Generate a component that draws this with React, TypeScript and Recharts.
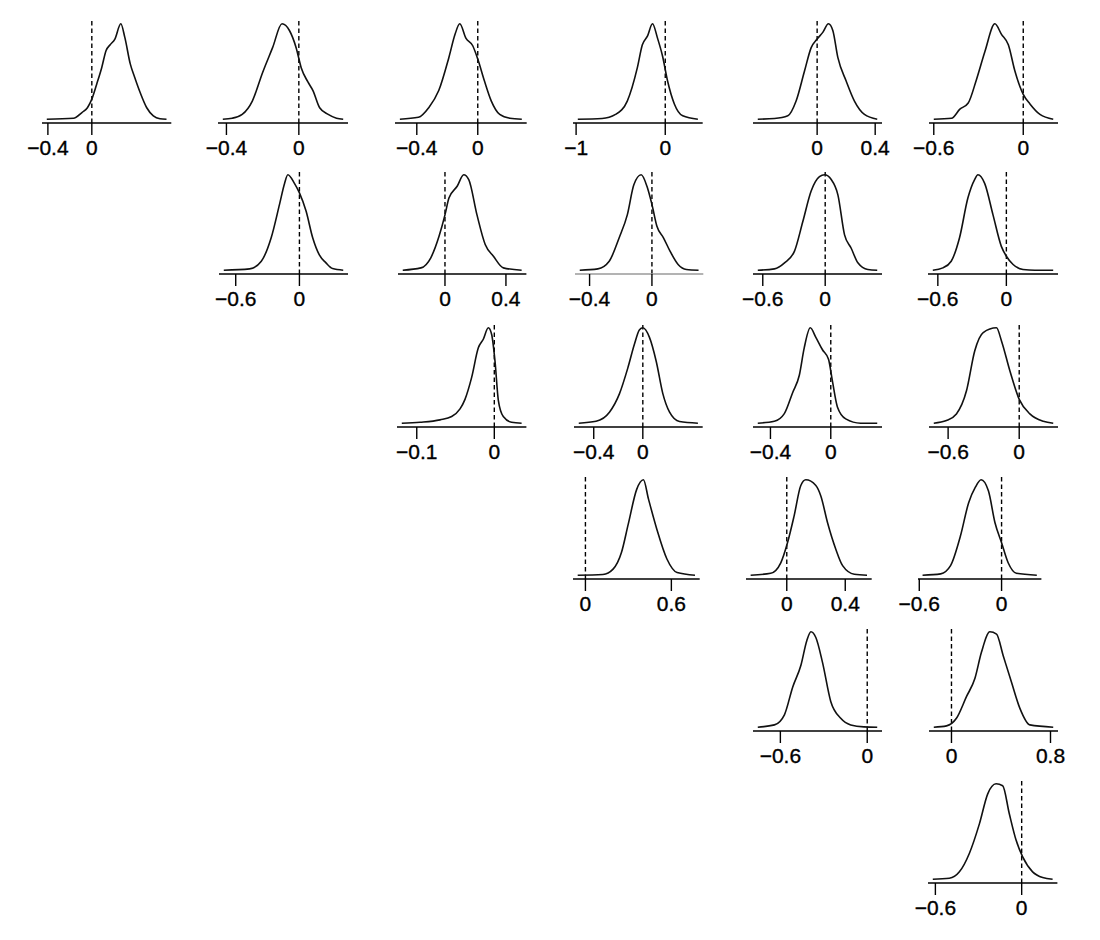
import React from 'react';
import { LineChart, Line, XAxis, YAxis, ReferenceLine } from 'recharts';

type Pt = [number, number];

// Posterior density curves (x value, height relative to the panel's peak)
const dens_1_1: Pt[] = [[-0.41,0],[-0.167,0.01],[-0.09,0.07],[-0.04,0.12],[0,0.21],[0.045,0.37],[0.09,0.54],[0.13,0.72],[0.167,0.78],[0.21,0.84],[0.264,1],[0.3,0.86],[0.35,0.58],[0.39,0.44],[0.44,0.28],[0.5,0.12],[0.56,0.035],[0.62,0.005],[0.68,0]];
const dens_1_2: Pt[] = [[-0.42,0],[-0.368,0.01],[-0.313,0.05],[-0.257,0.19],[-0.2,0.49],[-0.145,0.75],[-0.093,1],[-0.052,0.93],[-0.015,0.75],[0.013,0.54],[0.05,0.39],[0.078,0.3],[0.115,0.12],[0.162,0.05],[0.208,0.01],[0.245,0]];
const dens_1_3: Pt[] = [[-0.511,0],[-0.389,0.02],[-0.322,0.12],[-0.256,0.3],[-0.189,0.65],[-0.149,0.89],[-0.118,1],[-0.078,0.85],[-0.033,0.77],[0,0.63],[0.044,0.4],[0.089,0.19],[0.144,0.05],[0.211,0.01],[0.289,0]];
const dens_1_4: Pt[] = [[-0.981,0],[-0.709,0.007],[-0.558,0.05],[-0.426,0.19],[-0.313,0.54],[-0.257,0.78],[-0.2,0.87],[-0.143,1],[-0.087,0.85],[-0.03,0.66],[0.026,0.4],[0.102,0.16],[0.196,0.035],[0.366,0]];
const dens_1_5: Pt[] = [[-0.409,0],[-0.294,0.007],[-0.202,0.035],[-0.145,0.19],[-0.087,0.505],[-0.041,0.75],[0,0.84],[0.039,0.91],[0.078,1],[0.108,0.93],[0.143,0.645],[0.2,0.4],[0.257,0.19],[0.326,0.05],[0.414,0]];
const dens_1_6: Pt[] = [[-0.6,0],[-0.481,0.01],[-0.425,0.105],[-0.369,0.17],[-0.313,0.42],[-0.257,0.71],[-0.19,1],[-0.146,0.89],[-0.1,0.78],[-0.056,0.505],[0,0.26],[0.045,0.16],[0.112,0.05],[0.201,0]];
const dens_2_2: Pt[] = [[-0.7125,0],[-0.469,0.014],[-0.359,0.094],[-0.266,0.34],[-0.1875,0.69],[-0.14,0.91],[-0.109,1],[-0.047,0.91],[0,0.81],[0.0625,0.62],[0.125,0.34],[0.1875,0.16],[0.25,0.077],[0.3125,0.017],[0.4125,0]];
const dens_2_3: Pt[] = [[-0.277,0],[-0.158,0.024],[-0.093,0.13],[-0.039,0.355],[0,0.58],[0.026,0.756],[0.08,0.88],[0.123,1],[0.156,0.95],[0.21,0.58],[0.264,0.27],[0.318,0.146],[0.383,0.024],[0.503,0]];
const dens_2_4: Pt[] = [[-0.463,0],[-0.347,0.014],[-0.274,0.094],[-0.21,0.34],[-0.158,0.58],[-0.116,0.895],[-0.069,1],[-0.032,0.88],[0,0.69],[0.032,0.46],[0.074,0.34],[0.116,0.2],[0.168,0.06],[0.221,0.007],[0.299,0]];
const dens_2_5: Pt[] = [[-0.648,0],[-0.488,0.014],[-0.391,0.077],[-0.295,0.2],[-0.215,0.51],[-0.135,0.83],[-0.055,0.98],[-0.006,1],[0.058,0.95],[0.122,0.79],[0.186,0.37],[0.25,0.23],[0.314,0.077],[0.41,0.007],[0.5,0]];
const dens_2_6: Pt[] = [[-0.644,0],[-0.556,0.024],[-0.483,0.094],[-0.41,0.34],[-0.337,0.756],[-0.278,0.95],[-0.249,1],[-0.19,0.91],[-0.117,0.58],[-0.044,0.25],[0,0.146],[0.059,0.06],[0.146,0.007],[0.25,0],[0.41,0]];
const dens_3_3: Pt[] = [[-0.1193,0],[-0.0957,0.01],[-0.07,0.035],[-0.055,0.07],[-0.0442,0.15],[-0.0378,0.25],[-0.0292,0.48],[-0.0206,0.79],[-0.0142,0.88],[-0.0077,1],[-0.0034,0.93],[0.0009,0.65],[0.0052,0.24],[0.0116,0.07],[0.0223,0.01],[0.0352,0]];
const dens_3_4: Pt[] = [[-0.522,0],[-0.381,0.02],[-0.272,0.115],[-0.19,0.31],[-0.122,0.58],[-0.068,0.83],[-0.027,0.98],[0,1],[0.054,0.9],[0.109,0.65],[0.163,0.31],[0.218,0.115],[0.299,0.017],[0.449,0]];
const dens_3_5: Pt[] = [[-0.484,0],[-0.374,0.02],[-0.308,0.1],[-0.253,0.32],[-0.209,0.5],[-0.176,0.79],[-0.136,1],[-0.099,0.9],[-0.055,0.77],[-0.015,0.67],[0.011,0.44],[0.044,0.17],[0.099,0.045],[0.198,0],[0.308,0]];
const dens_3_6: Pt[] = [[-0.721,0],[-0.614,0.028],[-0.53,0.097],[-0.445,0.34],[-0.375,0.76],[-0.304,0.95],[-0.192,1],[-0.149,0.86],[-0.079,0.55],[0,0.25],[0.09,0.097],[0.203,0.02],[0.287,0]];
const dens_4_4: Pt[] = [[-0.054,0],[0.122,0.007],[0.193,0.063],[0.252,0.24],[0.299,0.535],[0.358,0.9],[0.405,1],[0.44,0.8],[0.499,0.48],[0.569,0.17],[0.64,0.028],[0.765,0]];
const dens_4_5: Pt[] = [[-0.247,0],[-0.11,0.02],[-0.041,0.13],[0.005,0.34],[0.05,0.62],[0.096,0.94],[0.13,1],[0.199,0.94],[0.233,0.83],[0.279,0.55],[0.336,0.27],[0.382,0.1],[0.462,0.01],[0.549,0]];
const dens_4_6: Pt[] = [[-0.576,0],[-0.444,0.014],[-0.372,0.1],[-0.3,0.41],[-0.24,0.76],[-0.192,0.92],[-0.149,1],[-0.096,0.885],[-0.048,0.55],[0,0.34],[0.048,0.13],[0.108,0.02],[0.257,0]];
const dens_5_5: Pt[] = [[-0.756,0],[-0.641,0.024],[-0.572,0.13],[-0.515,0.42],[-0.458,0.65],[-0.417,0.91],[-0.389,1],[-0.355,0.94],[-0.309,0.68],[-0.252,0.27],[-0.183,0.093],[-0.114,0.024],[-0.023,0.003],[0.069,0]];
const dens_5_6: Pt[] = [[-0.143,0],[-0.04,0.014],[0.04,0.093],[0.121,0.32],[0.189,0.51],[0.242,0.785],[0.31,1],[0.364,0.976],[0.418,0.75],[0.485,0.47],[0.552,0.2],[0.633,0.024],[0.822,0]];
const dens_6_6: Pt[] = [[-0.618,0],[-0.503,0.01],[-0.433,0.077],[-0.364,0.27],[-0.294,0.58],[-0.236,0.895],[-0.178,1],[-0.132,0.98],[-0.086,0.686],[-0.039,0.41],[0.007,0.233],[0.076,0.077],[0.146,0.017],[0.215,0]];

// Tick values for each panel's x axis
const ticks_1_1 = [-0.4, 0];
const ticks_1_2 = [-0.4, 0];
const ticks_1_3 = [-0.4, 0];
const ticks_1_4 = [-1, 0];
const ticks_1_5 = [0, 0.4];
const ticks_1_6 = [-0.6, 0];
const ticks_2_2 = [-0.6, 0];
const ticks_2_3 = [0, 0.4];
const ticks_2_4 = [-0.4, 0];
const ticks_2_5 = [-0.6, 0];
const ticks_2_6 = [-0.6, 0];
const ticks_3_3 = [-0.1, 0];
const ticks_3_4 = [-0.4, 0];
const ticks_3_5 = [-0.4, 0];
const ticks_3_6 = [-0.6, 0];
const ticks_4_4 = [0, 0.6];
const ticks_4_5 = [0, 0.4];
const ticks_4_6 = [-0.6, 0];
const ticks_5_5 = [-0.6, 0];
const ticks_5_6 = [0, 0.8];
const ticks_6_6 = [-0.6, 0];

const PANELS = [
  { pts: dens_1_1, ticks: ticks_1_1 },
  { pts: dens_1_2, ticks: ticks_1_2 },
  { pts: dens_1_3, ticks: ticks_1_3 },
  { pts: dens_1_4, ticks: ticks_1_4 },
  { pts: dens_1_5, ticks: ticks_1_5 },
  { pts: dens_1_6, ticks: ticks_1_6 },
  { pts: dens_2_2, ticks: ticks_2_2 },
  { pts: dens_2_3, ticks: ticks_2_3 },
  { pts: dens_2_4, ticks: ticks_2_4 },
  { pts: dens_2_5, ticks: ticks_2_5 },
  { pts: dens_2_6, ticks: ticks_2_6 },
  { pts: dens_3_3, ticks: ticks_3_3 },
  { pts: dens_3_4, ticks: ticks_3_4 },
  { pts: dens_3_5, ticks: ticks_3_5 },
  { pts: dens_3_6, ticks: ticks_3_6 },
  { pts: dens_4_4, ticks: ticks_4_4 },
  { pts: dens_4_5, ticks: ticks_4_5 },
  { pts: dens_4_6, ticks: ticks_4_6 },
  { pts: dens_5_5, ticks: ticks_5_5 },
  { pts: dens_5_6, ticks: ticks_5_6 },
  { pts: dens_6_6, ticks: ticks_6_6 },
];

// Layout (plot box left/right edge and axis baseline, in page pixels), same order as PANELS
const LAYOUT = [
  { l: 41.7, r: 171, y: 122.5 },
  { l: 218, r: 348, y: 122.5 },
  { l: 395, r: 526.7, y: 122.5 },
  { l: 573, r: 702.7, y: 122.5 },
  { l: 752.7, r: 881.7, y: 122.5 },
  { l: 929.3, r: 1058.3, y: 122.5 },
  { l: 219.3, r: 348.3, y: 273.5 },
  { l: 398.3, r: 526.7, y: 273.5 },
  { l: 575, r: 703.3, y: 273.5, axis: '#9a9a9a' },
  { l: 752.7, r: 881.7, y: 273.5 },
  { l: 928.3, r: 1058.3, y: 273.5 },
  { l: 397.3, r: 526.7, y: 426.7 },
  { l: 574, r: 702.7, y: 426.7 },
  { l: 752.7, r: 881.7, y: 426.7 },
  { l: 929.3, r: 1058.3, y: 426.7 },
  { l: 573.3, r: 700, y: 579 },
  { l: 746, r: 871.7, y: 579 },
  { l: 918.3, r: 1041.7, y: 579 },
  { l: 752.7, r: 881.7, y: 731 },
  { l: 929.3, r: 1058.3, y: 731 },
  { l: 928.3, r: 1057.7, y: 883.3 },
];

const ML = 30;
const MR = 30;
const MT = 4;
const PLOT_H = 103;
const XAXIS_H = 48;
const FONT = '"Liberation Sans", Arial, Helvetica, sans-serif';
const LABEL_SIZE = 21;

const fmt = (v: number) => (v < 0 ? '\u2212' + String(Math.abs(v)) : String(v));

function TickLabel(props: any) {
  const { x, y, payload } = props;
  return (
    <text
      x={x}
      y={y + LABEL_SIZE * 0.72}
      textAnchor="middle"
      fill="#000"
      stroke="#000"
      strokeWidth={0.35}
      style={{ fontSize: LABEL_SIZE, fontFamily: FONT }}
    >
      {fmt(payload.value)}
    </text>
  );
}

function Panel({ pts, ticks, lay }: { pts: Pt[]; ticks: number[]; lay: { l: number; r: number; y: number; axis?: string } }) {
  const data = pts.map(([x, y]) => ({ x, y }));
  const xs = pts.map((p) => p[0]);
  const lo = Math.min(...xs);
  const hi = Math.max(...xs);
  const pad = (hi - lo) * 0.04;
  const plotW = lay.r - lay.l;
  const w = plotW + ML + MR;
  const h = MT + PLOT_H + XAXIS_H;
  return (
    <div style={{ position: 'absolute', left: lay.l - ML, top: lay.y - PLOT_H - MT, width: w, height: h }}>
      <LineChart width={w} height={h} data={data} margin={{ top: MT, right: MR, bottom: 0, left: ML }}>
        <XAxis
          type="number"
          dataKey="x"
          domain={[lo - pad, hi + pad]}
          allowDataOverflow
          ticks={ticks}
          interval={0}
          height={XAXIS_H}
          tickSize={12}
          tickMargin={5}
          axisLine={{ stroke: lay.axis || '#000', strokeWidth: 1.4 }}
          tickLine={{ stroke: '#000', strokeWidth: 1.4 }}
          tick={<TickLabel />}
        />
        <YAxis hide type="number" domain={[-0.04, 1.04]} allowDataOverflow width={0} />
        <ReferenceLine x={0} stroke="#000" strokeDasharray="4.5 3" strokeWidth={1.4} />
        <Line type="monotone" dataKey="y" stroke="#111" strokeWidth={1.6} dot={false} isAnimationActive={false} />
      </LineChart>
    </div>
  );
}

export default function App() {
  return (
    <div style={{ position: 'absolute', left: 0, top: 0, width: 1100, height: 940, background: '#fff' }}>
      {PANELS.map((p, i) => (
        <Panel key={i} pts={p.pts} ticks={p.ticks} lay={LAYOUT[i]} />
      ))}
    </div>
  );
}
